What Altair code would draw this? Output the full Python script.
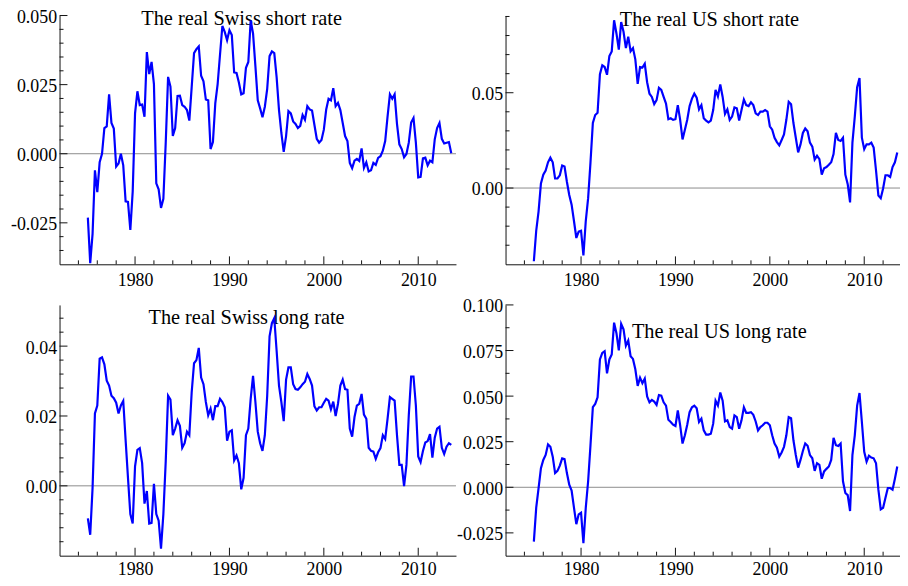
import altair as alt
import pandas as pd

# Quarterly observations, first quarter 1975
START_YEAR = 1975.0
QUARTER = 0.25

swiss_short = [
    -0.0231, -0.0396, -0.0290, -0.0060, -0.0139, -0.0031, 0.0000, 0.0093, 0.0099, 0.0215,
    0.0111, 0.0091, -0.0046, -0.0035, 0.0000, -0.0042, -0.0172, -0.0174, -0.0276, -0.0137,
    0.0146, 0.0226, 0.0176, 0.0178, 0.0134, 0.0368, 0.0288, 0.0332, 0.0252, -0.0107,
    -0.0129, -0.0196, -0.0163, 0.0040, 0.0278, 0.0243, 0.0064, 0.0093, 0.0209, 0.0210,
    0.0176, 0.0170, 0.0158, 0.0120, 0.0241, 0.0364, 0.0378, 0.0388, 0.0282, 0.0262,
    0.0196, 0.0193, 0.0017, 0.0042, 0.0182, 0.0252, 0.0358, 0.0462, 0.0441, 0.0411,
    0.0447, 0.0429, 0.0294, 0.0292, 0.0258, 0.0215, 0.0219, 0.0311, 0.0332, 0.0482,
    0.0435, 0.0317, 0.0193, 0.0164, 0.0132, 0.0170, 0.0235, 0.0353, 0.0370, 0.0364,
    0.0276, 0.0158, 0.0075, 0.0007, 0.0064, 0.0154, 0.0146, 0.0117, 0.0108, 0.0093,
    0.0101, 0.0140, 0.0123, 0.0172, 0.0160, 0.0156, 0.0105, 0.0054, 0.0040, 0.0050,
    0.0087, 0.0160, 0.0199, 0.0193, 0.0237, 0.0172, 0.0184, 0.0158, 0.0111, 0.0064,
    0.0046, -0.0033, -0.0052, -0.0025, -0.0019, -0.0026, 0.0019, -0.0051, -0.0031, -0.0064,
    -0.0060, -0.0033, -0.0040, -0.0015, -0.0009, 0.0011, 0.0046, 0.0134, 0.0215, 0.0199,
    0.0215, 0.0108, 0.0034, 0.0017, -0.0013, -0.0001, 0.0040, 0.0113, 0.0129, 0.0040,
    -0.0086, -0.0084, -0.0017, -0.0014, -0.0042, -0.0025, -0.0031, 0.0052, 0.0093, 0.0111,
    0.0054, 0.0037, 0.0040, 0.0042, 0.0002,
]

us_short = [
    -0.0384, -0.0224, -0.0122, 0.0024, 0.0070, 0.0092, 0.0135, 0.0159, 0.0135, 0.0050,
    0.0050, 0.0067, 0.0118, 0.0113, 0.0033, -0.0036, -0.0087, -0.0173, -0.0262, -0.0228,
    -0.0224, -0.0353, -0.0173, -0.0053, 0.0135, 0.0341, 0.0383, 0.0395, 0.0597, 0.0644,
    0.0635, 0.0594, 0.0692, 0.0717, 0.0880, 0.0811, 0.0726, 0.0871, 0.0820, 0.0734,
    0.0794, 0.0717, 0.0734, 0.0675, 0.0546, 0.0635, 0.0632, 0.0652, 0.0555, 0.0495,
    0.0478, 0.0440, 0.0461, 0.0526, 0.0515, 0.0478, 0.0443, 0.0361, 0.0366, 0.0358,
    0.0361, 0.0435, 0.0358, 0.0255, 0.0306, 0.0358, 0.0430, 0.0469, 0.0495, 0.0474,
    0.0413, 0.0435, 0.0366, 0.0354, 0.0344, 0.0354, 0.0409, 0.0515, 0.0481, 0.0543,
    0.0478, 0.0389, 0.0413, 0.0358, 0.0375, 0.0423, 0.0418, 0.0354, 0.0409, 0.0464,
    0.0435, 0.0430, 0.0450, 0.0435, 0.0392, 0.0383, 0.0401, 0.0401, 0.0409, 0.0401,
    0.0324, 0.0306, 0.0264, 0.0241, 0.0224, 0.0252, 0.0281, 0.0358, 0.0452, 0.0440,
    0.0341, 0.0264, 0.0187, 0.0229, 0.0289, 0.0313, 0.0298, 0.0238, 0.0217, 0.0149,
    0.0169, 0.0152, 0.0070, 0.0104, 0.0110, 0.0122, 0.0135, 0.0178, 0.0289, 0.0252,
    0.0247, 0.0264, 0.0070, 0.0020, -0.0075, 0.0238, 0.0375, 0.0529, 0.0577, 0.0264,
    0.0204, 0.0229, 0.0229, 0.0238, 0.0212, 0.0092, -0.0039, -0.0053, -0.0002, 0.0067,
    0.0067, 0.0058, 0.0110, 0.0135, 0.0187,
]

swiss_long = [
    -0.0093, -0.0140, -0.0006, 0.0207, 0.0230, 0.0364, 0.0368, 0.0348, 0.0301, 0.0287,
    0.0258, 0.0251, 0.0238, 0.0207, 0.0230, 0.0243, 0.0131, 0.0023, -0.0081, -0.0108,
    0.0056, 0.0103, 0.0108, 0.0065, -0.0051, -0.0015, -0.0108, -0.0106, 0.0006, -0.0081,
    -0.0100, -0.0180, -0.0081, 0.0070, 0.0258, 0.0247, 0.0145, 0.0164, 0.0188, 0.0172,
    0.0109, 0.0122, 0.0155, 0.0145, 0.0268, 0.0351, 0.0360, 0.0395, 0.0310, 0.0291,
    0.0240, 0.0202, 0.0221, 0.0188, 0.0228, 0.0228, 0.0249, 0.0240, 0.0225, 0.0129,
    0.0155, 0.0159, 0.0073, 0.0087, 0.0065, -0.0010, 0.0023, 0.0145, 0.0164, 0.0249,
    0.0315, 0.0240, 0.0155, 0.0122, 0.0100, 0.0145, 0.0258, 0.0428, 0.0466, 0.0480,
    0.0386, 0.0287, 0.0240, 0.0185, 0.0304, 0.0339, 0.0339, 0.0291, 0.0277, 0.0275,
    0.0282, 0.0291, 0.0298, 0.0320, 0.0306, 0.0287, 0.0228, 0.0216, 0.0225, 0.0225,
    0.0238, 0.0249, 0.0244, 0.0219, 0.0241, 0.0200, 0.0235, 0.0287, 0.0304, 0.0277,
    0.0275, 0.0164, 0.0141, 0.0197, 0.0230, 0.0235, 0.0263, 0.0204, 0.0192, 0.0109,
    0.0100, 0.0098, 0.0077, 0.0096, 0.0108, 0.0145, 0.0134, 0.0192, 0.0254, 0.0249,
    0.0244, 0.0145, 0.0060, 0.0060, -0.0001, 0.0060, 0.0202, 0.0313, 0.0313, 0.0230,
    0.0084, 0.0068, 0.0100, 0.0124, 0.0128, 0.0148, 0.0081, 0.0138, 0.0164, 0.0169,
    0.0109, 0.0091, 0.0112, 0.0122, 0.0117,
]

us_long = [
    -0.0298, -0.0112, -0.0004, 0.0105, 0.0150, 0.0177, 0.0235, 0.0222, 0.0168, 0.0078,
    0.0090, 0.0119, 0.0159, 0.0155, 0.0078, 0.0014, -0.0018, -0.0112, -0.0202, -0.0148,
    -0.0139, -0.0307, -0.0112, 0.0033, 0.0231, 0.0439, 0.0457, 0.0493, 0.0701, 0.0737,
    0.0746, 0.0625, 0.0701, 0.0728, 0.0903, 0.0845, 0.0751, 0.0896, 0.0867, 0.0777,
    0.0805, 0.0719, 0.0704, 0.0647, 0.0556, 0.0601, 0.0571, 0.0596, 0.0498, 0.0466,
    0.0479, 0.0470, 0.0452, 0.0506, 0.0502, 0.0466, 0.0448, 0.0370, 0.0358, 0.0343,
    0.0336, 0.0421, 0.0340, 0.0240, 0.0285, 0.0343, 0.0412, 0.0439, 0.0448, 0.0433,
    0.0358, 0.0376, 0.0312, 0.0289, 0.0289, 0.0294, 0.0349, 0.0475, 0.0448, 0.0520,
    0.0475, 0.0361, 0.0367, 0.0330, 0.0321, 0.0394, 0.0385, 0.0321, 0.0367, 0.0439,
    0.0408, 0.0408, 0.0412, 0.0397, 0.0361, 0.0312, 0.0330, 0.0340, 0.0354, 0.0354,
    0.0340, 0.0285, 0.0240, 0.0217, 0.0168, 0.0191, 0.0222, 0.0285, 0.0385, 0.0379,
    0.0258, 0.0177, 0.0108, 0.0150, 0.0199, 0.0240, 0.0228, 0.0177, 0.0159, 0.0090,
    0.0132, 0.0123, 0.0047, 0.0087, 0.0101, 0.0114, 0.0150, 0.0271, 0.0231, 0.0226,
    0.0240, 0.0033, -0.0031, -0.0043, -0.0130, 0.0177, 0.0285, 0.0448, 0.0517, 0.0358,
    0.0195, 0.0141, 0.0173, 0.0163, 0.0159, 0.0132, -0.0013, -0.0121, -0.0112, -0.0058,
    -0.0004, -0.0004, -0.0013, 0.0047, 0.0114,
]

titles = ["The real Swiss short rate", "The real US short rate",
          "The real Swiss long rate", "The real US long rate"]

year_labels = [1980, 1990, 2000, 2010]
year_minor = [1974, 1976, 1978, 1982, 1984, 1986, 1988, 1992, 1994, 1996,
              1998, 2002, 2004, 2006, 2008, 2012]
X_DOMAIN = [1972, 2014]

FONT = "Liberation Serif"
AXIS_COLOR = "#111111"

VIEW_W = 850
VIEW_H = 545


def panel(values, title, ydom, yrange, xrange, majors, minors, fmt,
          x_axis_offset, y_axis_offset, x_label_pad, tx, ty):
    dates = [START_YEAR + QUARTER * i for i in range(len(values))]
    df = pd.DataFrame({"date": dates, "value": values})
    xs = alt.Scale(domain=X_DOMAIN, range=xrange, nice=False, zero=False)
    ys = alt.Scale(domain=ydom, range=yrange, nice=False, zero=False)
    label_expr = (f"datum.value < 0 ? '-' + format(-datum.value, '{fmt}') "
                  f": format(datum.value, '{fmt}')")
    xa = alt.Axis(
        orient="bottom", offset=x_axis_offset,
        values=year_labels, format="d", ticks=False, grid=False,
        title=None, labelPadding=x_label_pad, domainColor=AXIS_COLOR, domainWidth=1,
        labelFont=FONT, labelFontSize=18, labelColor="#000000")
    ya = alt.Axis(
        orient="left", offset=y_axis_offset,
        values=majors, labelExpr=label_expr, ticks=False,
        grid=False, title=None, labelPadding=3, labelOffset=2,
        domainColor=AXIS_COLOR, domainWidth=1, labelFont=FONT,
        labelFontSize=18, labelColor="#000000")

    line = alt.Chart(df).mark_line(color="#0000ff", strokeWidth=2.2).encode(
        x=alt.X("date:Q", scale=xs, axis=xa),
        y=alt.Y("value:Q", scale=ys, axis=ya),
    )
    zero = alt.Chart(pd.DataFrame({"value": [0.0]})).mark_rule(
        color="#8c8c8c", strokeWidth=1).encode(
        y=alt.Y("value:Q", scale=ys, axis=ya),
        x=alt.XDatum(X_DOMAIN[0], scale=xs, axis=xa),
        x2=alt.X2Datum(X_DOMAIN[1]))
    ymaj = alt.Chart(pd.DataFrame({"value": majors})).mark_rule(
        color=AXIS_COLOR, strokeWidth=1, x2Offset=8).encode(
        y=alt.Y("value:Q", scale=ys, axis=ya),
        x=alt.XDatum(X_DOMAIN[0], scale=xs, axis=xa),
        x2=alt.X2Datum(X_DOMAIN[0]))
    ymin = alt.Chart(pd.DataFrame({"value": minors})).mark_rule(
        color=AXIS_COLOR, strokeWidth=1, x2Offset=4).encode(
        y=alt.Y("value:Q", scale=ys, axis=ya),
        x=alt.XDatum(X_DOMAIN[0], scale=xs, axis=xa),
        x2=alt.X2Datum(X_DOMAIN[0]))
    xmaj = alt.Chart(pd.DataFrame({"date": year_labels})).mark_rule(
        color=AXIS_COLOR, strokeWidth=1, y2Offset=-8).encode(
        x=alt.X("date:Q", scale=xs, axis=xa),
        y=alt.YDatum(ydom[0], scale=ys, axis=ya),
        y2=alt.Y2Datum(ydom[0]))
    xmin = alt.Chart(pd.DataFrame({"date": year_minor})).mark_rule(
        color=AXIS_COLOR, strokeWidth=1, y2Offset=-4).encode(
        x=alt.X("date:Q", scale=xs, axis=xa),
        y=alt.YDatum(ydom[0], scale=ys, axis=ya),
        y2=alt.Y2Datum(ydom[0]))
    txt = alt.Chart(pd.DataFrame({"t": [title]})).mark_text(
        font=FONT, fontSize=20.5, align="center", baseline="alphabetic",
        color="#000000").encode(text="t:N", x=alt.value(tx), y=alt.value(ty))
    return alt.layer(zero, ymaj, ymin, xmaj, xmin, txt, line)


TOP_RANGE = [251, 0]
BOT_RANGE = [545, 292]
LEFT_RANGE = [0, 400]
RIGHT_RANGE = [450, 850]

tl = panel(swiss_short, titles[0], [-0.04, 0.05], TOP_RANGE, LEFT_RANGE,
           [-0.025, 0.0, 0.025, 0.05],
           [-0.035, -0.03, -0.02, -0.015, -0.01, -0.005, 0.005, 0.01, 0.015, 0.02,
            0.03, 0.035, 0.04, 0.045],
           ".3f", 251 - VIEW_H, 0, 7, 183.7, 10)
tr = panel(us_short, titles[1], [-0.04, 0.0905], TOP_RANGE, RIGHT_RANGE,
           [0.0, 0.05],
           [-0.03, -0.02, -0.01, 0.01, 0.02, 0.03, 0.04, 0.06, 0.07, 0.08, 0.09],
           ".2f", 251 - VIEW_H, -450, 7, 655.7, 10.5)
bl = panel(swiss_long, titles[2], [-0.02, 0.0518], BOT_RANGE, LEFT_RANGE,
           [0.0, 0.02, 0.04],
           [-0.016, -0.012, -0.008, -0.004, 0.004, 0.008, 0.012, 0.016, 0.024, 0.028,
            0.032, 0.036, 0.044, 0.048],
           ".2f", 0, 0, 5, 188.7, 311)
br = panel(us_long, titles[3], [-0.0375, 0.1], BOT_RANGE, RIGHT_RANGE,
           [-0.025, 0.0, 0.025, 0.05, 0.075, 0.1],
           [-0.0125, 0.0125, 0.0375, 0.0625, 0.0875],
           ".3f", 0, -450, 5, 665.7, 325.3)

chart = alt.layer(tl, tr, bl, br).resolve_scale(
    x="independent", y="independent").resolve_axis(
    x="independent", y="independent").properties(
    width=VIEW_W, height=VIEW_H,
    autosize=alt.AutoSizeParams(type="none"),
    padding={"left": 52, "top": 5, "right": -2, "bottom": 28},
    background="#ffffff").configure_view(stroke=None)

chart.save("out.html", embed_options={"renderer": "svg", "actions": False})
